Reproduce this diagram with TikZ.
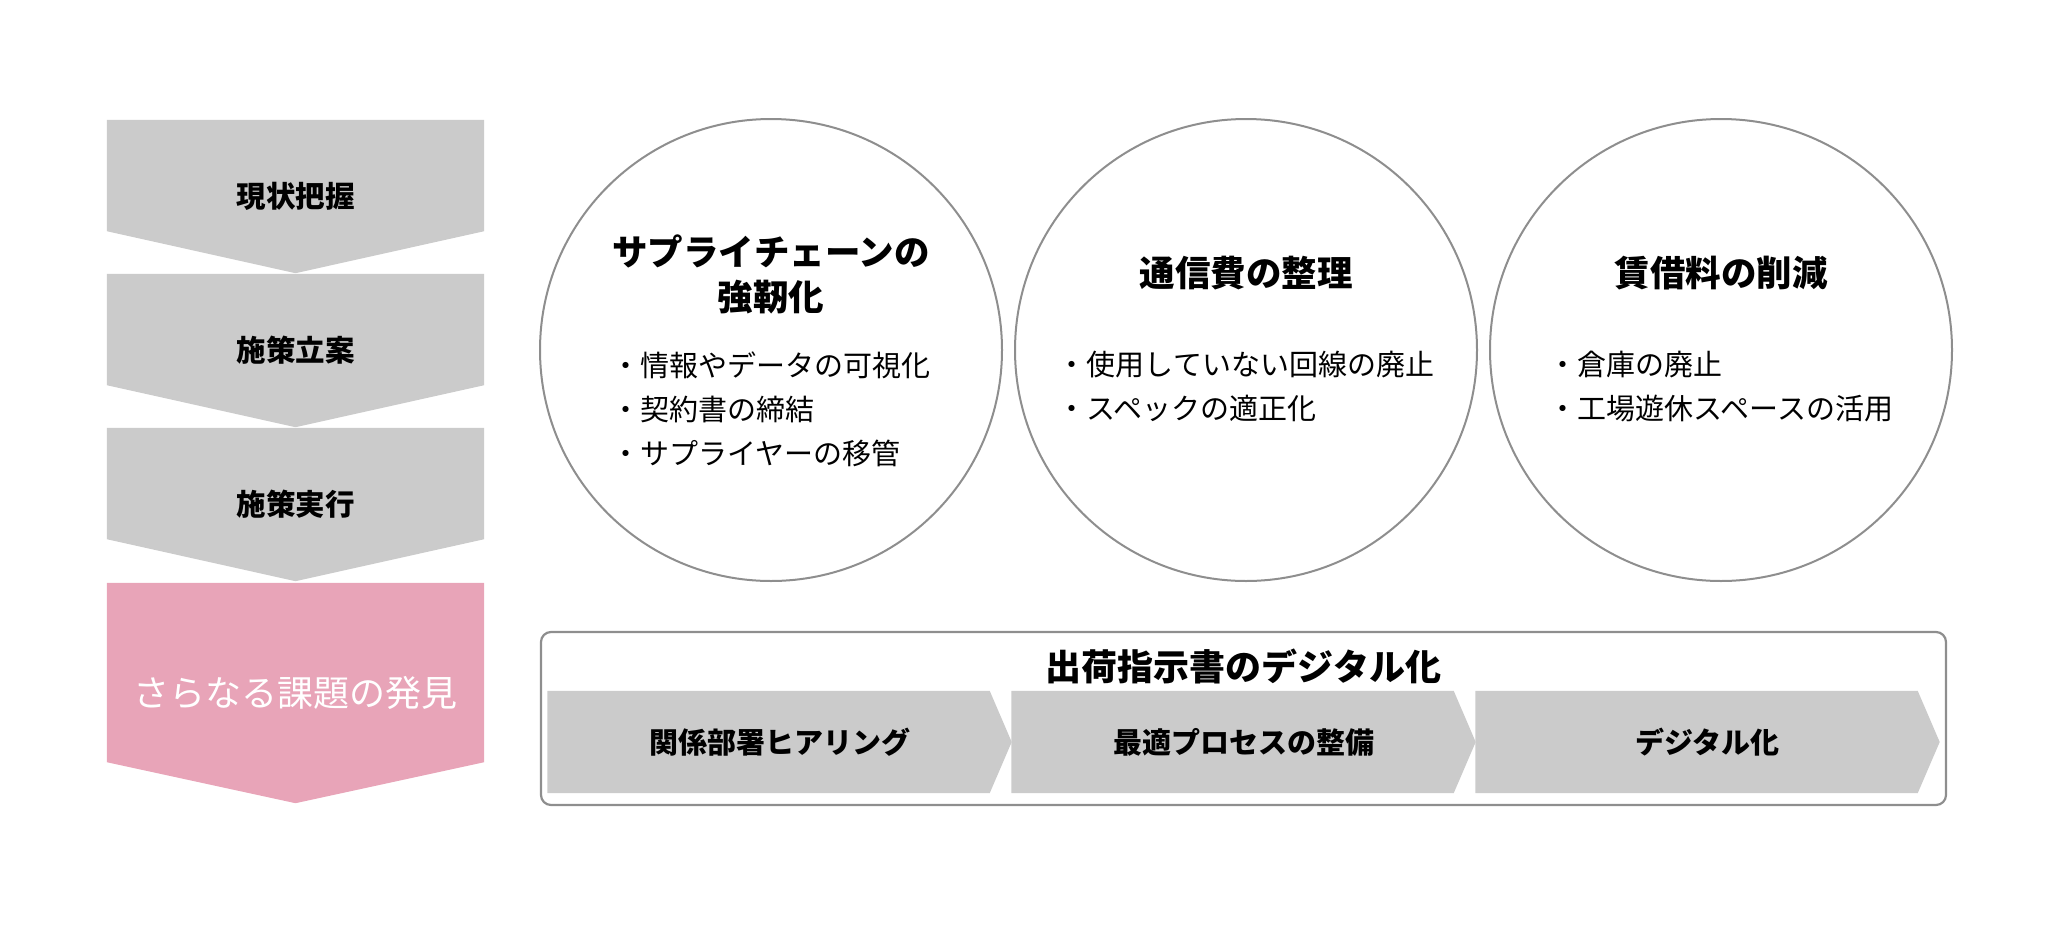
\documentclass[tikz,border=0pt]{standalone}
\usepackage{fontspec}
\setmainfont{Noto Sans CJK JP}
\usepackage{tikz}
\usetikzlibrary{positioning, backgrounds}
\definecolor{stepgray}{HTML}{CBCBCB}
\definecolor{steppink}{HTML}{E8A4B8}
\definecolor{linegray}{HTML}{8E8E8E}
\tikzstyle{stepbox} = [rectangle, minimum width=377pt, minimum height=153pt, inner sep=0pt,
    font=\fontsize{29.5}{35}\selectfont\bfseries]
\tikzstyle{findbox} = [stepbox, minimum height=220pt, text=white, font=\fontsize{36}{42}\selectfont]
\tikzstyle{topic} = [circle, draw=linegray, line width=2pt, minimum size=462pt, inner sep=0pt]
\tikzstyle{topictitle} = [align=center, inner sep=0pt, font=\fontsize{35.5}{45}\selectfont\bfseries]
\tikzstyle{topicitems} = [align=left, anchor=north, inner sep=0pt, font=\fontsize{29}{44}\selectfont]
\tikzstyle{phasebox} = [rectangle, minimum width=464pt, minimum height=102pt, inner sep=0pt,
    font=\fontsize{29}{35}\selectfont\bfseries]
\tikzstyle{outerbox} = [rectangle, draw=linegray, line width=2.2pt, rounded corners=10pt,
    minimum width=1405pt, minimum height=173pt]
\begin{document}
\begin{tikzpicture}[x=1pt, y=-1pt]
                \useasboundingbox (0,0) rectangle (2048,932);
                % Steps on the left
                \node [stepbox] (now) at (295.5,196.5) {現状把握};
                \node [stepbox, below of=now, node distance=154pt] (plan) {施策立案};
                \node [stepbox, below of=plan, node distance=154pt] (act) {施策実行};
                \node [findbox, below of=act, node distance=188.5pt] (next) {さらなる課題の発見};

                % Topic circles
                \node [topic] (chain) at (771,350) {};
                \node [topic, right of=chain, node distance=475pt] (comm) {};
                \node [topic, right of=comm, node distance=475pt] (rent) {};

                \node [topictitle] (chaintitle) at ([yshift=76pt]chain.center) {サプライチェーンの\\強靭化};
                \node [topictitle] (commtitle) at ([yshift=77pt]comm.center) {通信費の整理};
                \node [topictitle] (renttitle) at ([yshift=77pt]rent.center) {賃借料の削減};

                \node [topicitems] (chainitems) at ([yshift=-2pt]chain.center)
                    {・情報やデータの可視化\\・契約書の締結\\・サプライヤーの移管};
                \node [topicitems] (commitems) at ([yshift=-1pt]comm.center)
                    {・使用していない回線の廃止\\・スペックの適正化};
                \node [topicitems] (rentitems) at ([yshift=-1pt]rent.center)
                    {・倉庫の廃止\\・工場遊休スペースの活用};

                % Digitalisation box
                \node [outerbox] (dx) at (1243.5,718.5) {};
                \node [topictitle, font=\fontsize{36}{42}\selectfont\bfseries] (dxtitle) at (1243.5,666) {出荷指示書のデジタル化};
                \node [phasebox] (hear) at (779.5,742) {関係部署ヒアリング};
                \node [phasebox, right of=hear, node distance=464pt] (flow) {最適プロセスの整備};
                \node [phasebox, right of=flow, node distance=464pt] (digi) {デジタル化};

                % Chevron fills
                \begin{scope}[on background layer]
                \fill [stepgray] (now.north west) -- (now.north east) -- ([yshift=42pt]now.south east)
                    -- (now.south) -- ([yshift=42pt]now.south west) -- cycle;
                \fill [stepgray] (plan.north west) -- (plan.north east) -- ([yshift=42pt]plan.south east)
                    -- (plan.south) -- ([yshift=42pt]plan.south west) -- cycle;
                \fill [stepgray] (act.north west) -- (act.north east) -- ([yshift=42pt]act.south east)
                    -- (act.south) -- ([yshift=42pt]act.south west) -- cycle;
                \fill [steppink] (next.north west) -- (next.north east) -- ([yshift=41pt]next.south east)
                    -- (next.south) -- ([yshift=41pt]next.south west) -- cycle;

                \fill [stepgray] (hear.north west) -- ([xshift=-22pt]hear.north east) -- (hear.east)
                    -- ([xshift=-22pt]hear.south east) -- (hear.south west) -- cycle;
                \fill [stepgray] (flow.north west) -- ([xshift=-22pt]flow.north east) -- (flow.east)
                    -- ([xshift=-22pt]flow.south east) -- (flow.south west) -- cycle;
                \fill [stepgray] (digi.north west) -- ([xshift=-22pt]digi.north east) -- (digi.east)
                    -- ([xshift=-22pt]digi.south east) -- (digi.south west) -- cycle;
                \end{scope}

            \end{tikzpicture}
\end{document}
